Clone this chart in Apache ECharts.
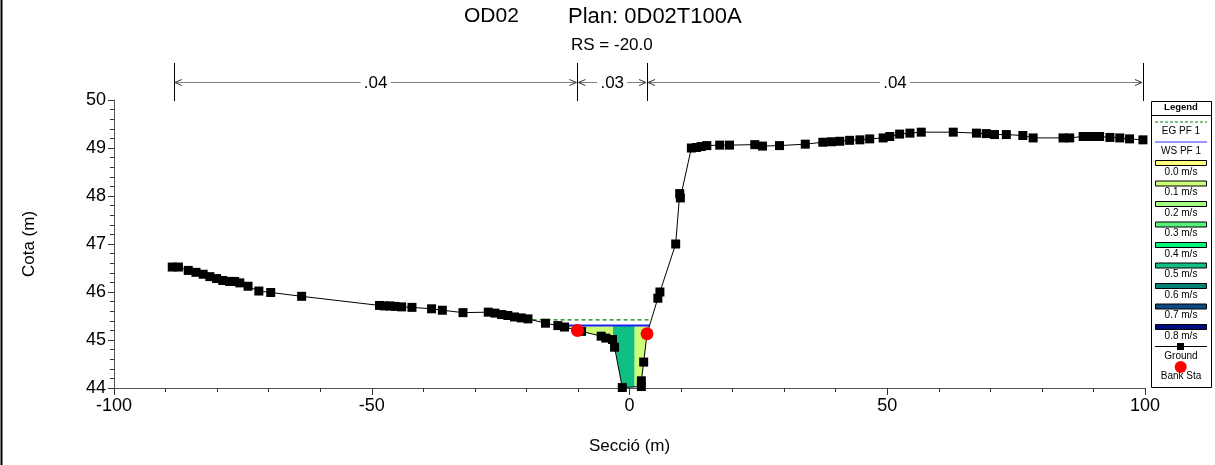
<!DOCTYPE html>
<html>
<head>
<meta charset="utf-8">
<script src="https://cdn.jsdelivr.net/npm/echarts@6/dist/echarts.min.js"></script>
<style>
  html, body { margin: 0; padding: 0; background: #ffffff; }
  #chart { width: 1215px; height: 465px; }
</style>
</head>
<body>
<div id="chart"></div>
<script>
// Cross-section OD02, RS = -20.0: ground survey points (station m, elevation m)
const groundStation = [
  -88.7, -87.5, -85.6, -84.1, -82.7, -81.4, -80.1, -78.9, -77.6, -76.6, -75.6, -74.0,
  -71.9, -69.6, -63.6, -48.5, -47.5, -46.5, -45.5, -44.2, -42.2, -38.4, -36.3, -32.3,
  -27.4, -26.1, -24.8, -23.6, -22.3, -21.0, -19.7, -16.3, -13.9, -12.6, -9.3, -5.5,
  -4.6, -3.3, -2.9, -1.4, 2.3, 2.3, 2.75, 3.4, 5.5, 5.9, 8.96, 9.74, 9.87, 12.0,
  13.0, 13.9, 15.0, 17.5, 19.4, 24.3, 25.8, 29.1, 34.1, 37.5, 39.2, 40.8, 42.7, 44.7,
  46.6, 49.2, 50.5, 52.4, 54.4, 56.6, 62.8, 67.3, 69.2, 70.8, 73.1, 76.3, 78.3, 84.1,
  85.4, 88.0, 89.6, 91.2, 93.2, 95.1, 97.0, 99.6
];
const groundElev = [
  46.52, 46.52, 46.45, 46.41, 46.37, 46.32, 46.28, 46.24, 46.22, 46.22, 46.19, 46.12,
  46.02, 45.99, 45.91, 45.72, 45.71, 45.71, 45.70, 45.69, 45.68, 45.65, 45.62, 45.57,
  45.58, 45.56, 45.53, 45.51, 45.48, 45.46, 45.44, 45.35, 45.30, 45.27, 45.18, 45.08,
  45.04, 45.01, 44.85, 44.01, 44.03, 44.15, 44.54, 45.13, 45.87, 46.00, 47.00, 48.05,
  47.96, 49.00, 49.01, 49.03, 49.05, 49.06, 49.06, 49.07, 49.04, 49.05, 49.08, 49.12,
  49.13, 49.14, 49.16, 49.17, 49.19, 49.21, 49.24, 49.29, 49.31, 49.33, 49.33, 49.31,
  49.30, 49.28, 49.28, 49.26, 49.21, 49.21, 49.21, 49.24, 49.24, 49.24, 49.22, 49.21,
  49.19, 49.17
];

// Bank stations
const bankStation = [-10.1, 3.4];
const bankElev = [45.20, 45.13];

// Water surface and energy grade, profile PF 1
const wsElev = 45.30;
const wsRange = [-14.2, 3.9];
const egElev = 45.42;
const egRange = [-18.8, 4.1];

// Manning's n breaks and values
const nStations = [-88.4, -10.1, 3.4, 99.6];
const nValues = ['.04', '.03', '.04'];

// Velocity distribution: zone limits (station) and velocity in each zone (m/s)
const velBreaks = [-14.2, -3.2, 1.0, 3.9];
const velValues = [0.1, 0.5, 0.1];

// Velocity colour scale shown in the legend
const legendSpeeds = ['0.0 m/s', '0.1 m/s', '0.2 m/s', '0.3 m/s', '0.4 m/s', '0.5 m/s', '0.6 m/s', '0.7 m/s', '0.8 m/s'];
const legendColors = ['#ffff80', '#ccff77', '#a0ff80', '#55f57d', '#00f57a', '#10c080', '#008478', '#0b4a82', '#000a80'];

// Axis ticks
const xTicks = [-100, -50, 0, 50, 100];
const yTicks = [44, 45, 46, 47, 48, 49, 50];

const FONT = "'Liberation Sans', Arial, sans-serif";

function groundAt(s) {
  for (let i = 0; i < groundStation.length - 1; i++) {
    const a = groundStation[i], b = groundStation[i + 1];
    if (s >= a && s <= b) {
      if (b === a) return groundElev[i];
      return groundElev[i] + (groundElev[i + 1] - groundElev[i]) * (s - a) / (b - a);
    }
  }
  return groundElev[groundElev.length - 1];
}

// Polygon (data coords) for the wetted area between two stations
function zonePolygon(a, b) {
  const pts = [[a, wsElev], [b, wsElev], [b, Math.min(groundAt(b), wsElev)]];
  for (let i = groundStation.length - 1; i >= 0; i--) {
    const s = groundStation[i];
    if (s > a && s < b) pts.push([s, Math.min(groundElev[i], wsElev)]);
  }
  pts.push([a, Math.min(groundAt(a), wsElev)]);
  return pts;
}

const velData = velValues.map((v, i) => [velBreaks[i], velBreaks[i + 1], v]);
const nData = nValues.map((t, i) => [nStations[i], nStations[i + 1], i]);

const chart = echarts.init(document.getElementById('chart'), null, { renderer: 'canvas' });

// Legend drawn as a boxed key on the right
const LX = 1151, LY = 101, LW = 60, LH = 286;
const legendEls = [
  { type: 'rect', shape: { x: LX + 0.5, y: LY + 0.5, width: LW, height: LH }, style: { fill: '#fff', stroke: '#000', lineWidth: 1 }, z: 10 },
  { type: 'text', x: LX + LW / 2, y: LY + 6.5, style: { text: 'Legend', fontFamily: FONT, fontSize: 9.5, fontWeight: 'bold', fill: '#000', align: 'center', verticalAlign: 'middle' }, z: 11 },
  { type: 'line', shape: { x1: LX, y1: LY + 14.5, x2: LX + LW, y2: LY + 14.5 }, style: { stroke: '#000', lineWidth: 1 }, z: 11 },
  { type: 'line', shape: { x1: LX + 4, y1: LY + 21, x2: LX + 56, y2: LY + 21 }, style: { stroke: '#008000', lineWidth: 1, lineDash: [3, 2] }, z: 11 },
  { type: 'text', x: LX + LW / 2, y: LY + 30, style: { text: 'EG PF 1', fontFamily: FONT, fontSize: 10, fill: '#000', align: 'center', verticalAlign: 'middle' }, z: 11 },
  { type: 'line', shape: { x1: LX + 4, y1: LY + 41, x2: LX + 56, y2: LY + 41 }, style: { stroke: '#3030ff', lineWidth: 1.2 }, z: 11 },
  { type: 'text', x: LX + LW / 2, y: LY + 50, style: { text: 'WS PF 1', fontFamily: FONT, fontSize: 10, fill: '#000', align: 'center', verticalAlign: 'middle' }, z: 11 }
];
legendSpeeds.forEach((label, i) => {
  const y = LY + 59 + i * 20.5;
  legendEls.push({ type: 'rect', shape: { x: LX + 4.5, y: y + 0.5, width: 51, height: 5 }, style: { fill: legendColors[i], stroke: '#000', lineWidth: 1 }, z: 11 });
  legendEls.push({ type: 'text', x: LX + LW / 2, y: y + 12, style: { text: label, fontFamily: FONT, fontSize: 10, fill: '#000', align: 'center', verticalAlign: 'middle' }, z: 11 });
});
legendEls.push(
  { type: 'line', shape: { x1: LX + 4, y1: LY + 245.5, x2: LX + 56, y2: LY + 245.5 }, style: { stroke: '#000', lineWidth: 1 }, z: 11 },
  { type: 'rect', shape: { x: LX + 26, y: LY + 242, width: 7, height: 7 }, style: { fill: '#000' }, z: 11 },
  { type: 'text', x: LX + LW / 2, y: LY + 255, style: { text: 'Ground', fontFamily: FONT, fontSize: 10, fill: '#000', align: 'center', verticalAlign: 'middle' }, z: 11 },
  { type: 'circle', shape: { cx: LX + 29.7, cy: LY + 266, r: 6 }, style: { fill: '#ff0000' }, z: 11 },
  { type: 'text', x: LX + LW / 2, y: LY + 275, style: { text: 'Bank Sta', fontFamily: FONT, fontSize: 10, fill: '#000', align: 'center', verticalAlign: 'middle' }, z: 12 }
);

const option = {
  animation: false,
  backgroundColor: '#ffffff',
  title: [
    { text: 'OD02', left: 464, top: 6, textStyle: { fontFamily: FONT, fontSize: 21, fontWeight: 'normal', color: '#000' }, padding: 0 },
    { text: 'Plan: 0D02T100A', left: 568, top: 6, textStyle: { fontFamily: FONT, fontSize: 22, fontWeight: 'normal', color: '#000' }, padding: 0 },
    { text: 'RS = -20.0', left: 571, top: 37, textStyle: { fontFamily: FONT, fontSize: 17, fontWeight: 'normal', color: '#000' }, padding: 0 }
  ],
  grid: { left: 114, right: 70, top: 100, bottom: 77, containLabel: false },
  xAxis: {
    type: 'value', min: xTicks[0], max: xTicks[xTicks.length - 1], interval: 50,
    name: 'Secció (m)', nameLocation: 'middle', nameGap: 50,
    nameTextStyle: { fontFamily: FONT, fontSize: 17, color: '#000' },
    axisLine: { onZero: false, lineStyle: { color: '#555', width: 1 } },
    axisTick: { show: true, inside: false, length: 7, lineStyle: { color: '#333' } },
    minorTick: { show: true, splitNumber: 5, length: 4, lineStyle: { color: '#333' } },
    axisLabel: { fontFamily: FONT, fontSize: 18, color: '#000', margin: 9 },
    splitLine: { show: false }, minorSplitLine: { show: false }
  },
  yAxis: {
    type: 'value', min: yTicks[0], max: yTicks[yTicks.length - 1], interval: 1,
    name: 'Cota (m)', nameLocation: 'middle', nameGap: 76, nameRotate: 90,
    nameTextStyle: { fontFamily: FONT, fontSize: 17, color: '#000' },
    axisLine: { show: true, onZero: false, lineStyle: { color: '#555', width: 1 } },
    axisTick: { show: true, inside: false, length: 6, lineStyle: { color: '#333' } },
    minorTick: { show: true, splitNumber: 5, length: 4, lineStyle: { color: '#333' } },
    axisLabel: { fontFamily: FONT, fontSize: 18, color: '#000', margin: 8 },
    splitLine: { show: false }, minorSplitLine: { show: false }
  },
  graphic: [
    { type: 'line', shape: { x1: 1.5, y1: 0, x2: 1.5, y2: 465 }, style: { stroke: '#000', lineWidth: 2 } },
    ...legendEls
  ],
  series: [
    {
      // velocity-coloured flow area
      type: 'custom', name: 'velocity', data: velData, clip: true, z: 1,
      encode: { x: [0, 1] },
      renderItem: function (params, api) {
        const a = api.value(0), b = api.value(1), v = api.value(2);
        const idx = Math.max(0, Math.min(legendColors.length - 1, Math.round(v * 10)));
        const pts = zonePolygon(a, b).map(p => api.coord(p));
        return { type: 'polygon', shape: { points: pts }, style: { fill: legendColors[idx], stroke: null } };
      }
    },
    {
      type: 'line', name: 'EG PF 1', z: 3, symbol: 'none', silent: true,
      data: [[egRange[0], egElev], [egRange[1], egElev]],
      lineStyle: { color: '#008000', width: 1.2, type: [4, 3] }
    },
    {
      type: 'line', name: 'WS PF 1', z: 3, symbol: 'none', silent: true,
      data: [[wsRange[0], wsElev], [wsRange[1], wsElev]],
      lineStyle: { color: '#2020ff', width: 2 }
    },
    {
      type: 'line', name: 'Ground', z: 4, symbol: 'rect', symbolSize: 9, showAllSymbol: true,
      data: groundStation.map((s, i) => [s, groundElev[i]]),
      lineStyle: { color: '#000', width: 1 },
      itemStyle: { color: '#000' }
    },
    {
      type: 'scatter', name: 'Bank Sta', z: 5, symbol: 'circle', symbolSize: 13,
      data: bankStation.map((s, i) => [s, bankElev[i]]),
      itemStyle: { color: '#ff0000', opacity: 1 }
    },
    {
      // Manning's n segments above the plot
      type: 'custom', name: 'n values', data: nData, clip: false, z: 6, silent: true,
      encode: { x: [0, 1] },
      renderItem: function (params, api) {
        const x1 = api.coord([api.value(0), 50])[0];
        const x2 = api.coord([api.value(1), 50])[0];
        const top = api.coord([0, 50])[1];
        const y = Math.round(top - 18) + 0.5;
        const label = nValues[api.value(2)];
        const xc = (x1 + x2) / 2;
        const half = 15;
        const grey = '#808080';
        const ch = [];
        ch.push({ type: 'line', shape: { x1: x1 + 1, y1: y, x2: xc - half, y2: y }, style: { stroke: grey, lineWidth: 1 } });
        ch.push({ type: 'line', shape: { x1: xc + half, y1: y, x2: x2 - 1, y2: y }, style: { stroke: grey, lineWidth: 1 } });
        ch.push({ type: 'polyline', shape: { points: [[x1 + 8, y - 3], [x1 + 1, y], [x1 + 8, y + 3]] }, style: { stroke: '#333', lineWidth: 1, fill: null } });
        ch.push({ type: 'polyline', shape: { points: [[x2 - 8, y - 3], [x2 - 1, y], [x2 - 8, y + 3]] }, style: { stroke: '#333', lineWidth: 1, fill: null } });
        ch.push({ type: 'line', shape: { x1: Math.round(x1) + 0.5, y1: top - 37, x2: Math.round(x1) + 0.5, y2: top + 1 }, style: { stroke: '#000', lineWidth: 1 } });
        ch.push({ type: 'line', shape: { x1: Math.round(x2) + 0.5, y1: top - 37, x2: Math.round(x2) + 0.5, y2: top + 1 }, style: { stroke: '#000', lineWidth: 1 } });
        ch.push({ type: 'text', x: xc, y: y + 1, style: { text: label, fontFamily: FONT, fontSize: 17, fill: '#000', align: 'center', verticalAlign: 'middle' } });
        return { type: 'group', children: ch };
      }
    }
  ]
};

chart.setOption(option);
</script>
</body>
</html>
